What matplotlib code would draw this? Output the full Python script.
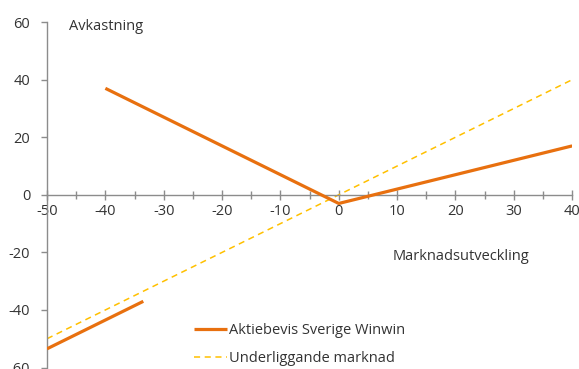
import matplotlib
matplotlib.use("Agg")
import matplotlib.pyplot as plt
from matplotlib.ticker import MultipleLocator

# Market development (%) and resulting return (%)
product_x = [-40, 0, 40]
product_y = [37, -3, 17]
product_low_x = [-50, -33.5]
product_low_y = [-53.5, -37]
market_x = [-50, 40]
market_y = [-50, 40]

x_ticks = [-50, -40, -30, -20, -10, 0, 10, 20, 30, 40]
y_ticks = [-60, -40, -20, 0, 20, 40, 60]

product_label = "Aktiebevis Sverige Winwin"
market_label = "Underliggande marknad"

plt.rcParams["font.family"] = ["Open Sans", "DejaVu Sans"]
plt.rcParams["axes.unicode_minus"] = False
text_color = "#333333"
axis_color = "#8c8c8c"

fig = plt.figure(figsize=(5.79, 3.69), dpi=100)
ax = fig.add_axes([0.0812, 0.004, 0.907, 0.936])

ax.plot(product_x, product_y, color="#E8700F", lw=2.3, solid_capstyle="butt",
        label=product_label, zorder=3)
ax.plot(product_low_x, product_low_y, color="#E8700F", lw=2.3,
        solid_capstyle="butt", zorder=3)
ax.plot(market_x, market_y, color="#FFC000", lw=1.1, ls=(0, (4, 3)),
        label=market_label, zorder=2)

ax.set_xlim(-50, 40)
ax.set_ylim(-60, 60)
ax.set_xticks(x_ticks)
ax.set_yticks(y_ticks)
ax.xaxis.set_minor_locator(MultipleLocator(5))

ax.spines["top"].set_visible(False)
ax.spines["right"].set_visible(False)
ax.spines["bottom"].set_position(("data", 0))
for s in ("left", "bottom"):
    ax.spines[s].set_color(axis_color)
    ax.spines[s].set_linewidth(1.0)

ax.tick_params(axis="x", which="major", direction="inout", length=7,
               width=1.0, color=axis_color, labelcolor=text_color,
               labelsize=10.5, pad=3)
ax.tick_params(axis="x", which="minor", direction="inout", length=6,
               width=1.0, color=axis_color)
ax.tick_params(axis="y", direction="out", length=4, width=1.0,
               color=axis_color, labelcolor=text_color, labelsize=10.5, pad=8)
for lbl in ax.get_yticklabels():
    lbl.set_clip_on(False)

ax.text(-46.2, 58.5, "Avkastning", fontsize=10.5, color=text_color,
        ha="left", va="center")
ax.text(9.3, -21.5, "Marknadsutveckling", fontsize=10.5, color=text_color,
        ha="left", va="center")

leg = ax.legend(loc="lower left", bbox_to_anchor=(0.268, -0.012), frameon=False,
                fontsize=10.5, handlelength=2.3, handletextpad=0.1,
                labelspacing=0.85, borderaxespad=0)
for t in leg.get_texts():
    t.set_color(text_color)

fig.savefig("out.png", dpi=100)
